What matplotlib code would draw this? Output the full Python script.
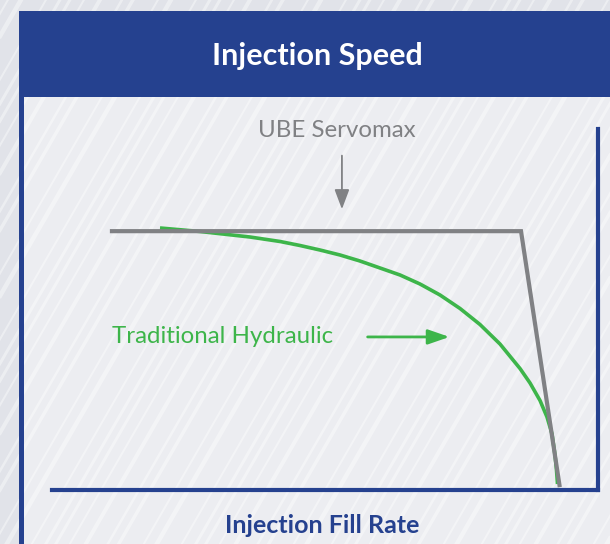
import numpy as np
import matplotlib
matplotlib.use("Agg")
import matplotlib.pyplot as plt
from matplotlib.patches import Rectangle

# ---- data (x: fill rate, y: injection speed; arbitrary 0-100 units) ----
servo_x = [10.6, 85.9, 93.0]
servo_y = [71.7, 71.7, 0.8]

hyd_x = [19.78, 27.11, 36.26, 41.76, 45.42, 49.08, 52.75, 56.41, 60.07, 63.74, 67.40, 71.06,
         74.73, 78.39, 82.05, 85.71, 87.55, 89.38, 90.66, 91.58, 92.12, 92.40, 92.58]
hyd_y = [72.58, 71.61, 70.08, 68.84, 67.73, 66.48, 65.10, 63.43, 61.50, 59.56, 57.06, 54.02,
         50.28, 45.84, 40.44, 33.66, 29.64, 24.79, 20.22, 15.51, 9.70, 5.54, 1.66]

title = "Injection Speed"
xlabel = "Injection Fill Rate"
servo_label = "UBE Servomax"
hyd_label = "Traditional Hydraulic"

BLUE = "#25418f"
GRAY = "#808184"
GREEN = "#3db54a"
FONT = "Lato"

W, H = 610, 544
fig = plt.figure(figsize=(W / 100, H / 100), dpi=100)
fig.patch.set_facecolor("#e1e3e9")

bg = fig.add_axes([0, 0, 1, 1])
bg.set_xlim(0, W)
bg.set_ylim(H, 0)
bg.axis("off")

# card body
bg.add_patch(Rectangle((19, 11), W, H, facecolor="#ecedf1", edgecolor="none", zorder=1))
# stripes (decoration)
pattern = [(0, 3.0), (14, 2.0), (30, 4.0), (52, 2.5), (63, 3.5), (88, 2.0), (101, 4.5), (126, 2.0), (140, 3.0)]
period = 150
t60 = np.tan(np.radians(60))
for base in range(-400, W + 50, period):
    for off, w in pattern:
        x0 = base + off
        bg.plot([x0, x0 + (H + 20) / t60], [H + 10, -10], color="white", alpha=0.4,
                lw=w * 0.72, solid_capstyle="butt", zorder=2)
# left blue border of card
bg.add_patch(Rectangle((19, 97), 5, H, facecolor=BLUE, edgecolor="none", zorder=3))
# header
bg.add_patch(Rectangle((19, 11), W, 86, facecolor=BLUE, edgecolor="none", zorder=4))
bg.text(317, 65, title, color="white", fontsize=22, fontweight="bold", family=FONT,
        ha="center", va="baseline", zorder=5)
bg.text(322, 533, xlabel, color=BLUE, fontsize=18, fontweight="bold", family=FONT,
        ha="center", va="baseline", zorder=5)

# ---- plot area ----
ax = fig.add_axes([52 / W, (H - 490) / H, 546 / W, 361 / H])
ax.set_xlim(0, 100)
ax.set_ylim(0, 100)
ax.patch.set_alpha(0)
for s in ["top", "left"]:
    ax.spines[s].set_visible(False)
for s in ["bottom", "right"]:
    ax.spines[s].set_color(BLUE)
    ax.spines[s].set_linewidth(3)
ax.set_xticks([])
ax.set_yticks([])

ax.plot(hyd_x, hyd_y, color=GREEN, lw=2.6, solid_capstyle="butt", solid_joinstyle="round", zorder=3)
ax.plot(servo_x, servo_y, color=GRAY, lw=3, solid_joinstyle="miter", solid_capstyle="butt", zorder=4)

ax.annotate("", xy=(53.1, 77.0), xytext=(53.1, 93.4),
            arrowprops=dict(arrowstyle="-|>,head_length=1.2,head_width=0.45", color=GRAY, lw=1.3))
ax.text(52.2, 97.8, servo_label, color=GRAY, fontsize=17.3, family=FONT, ha="center", va="baseline")

ax.annotate("", xy=(73.3, 42.4), xytext=(57.3, 42.4),
            arrowprops=dict(arrowstyle="-|>,head_length=1.3,head_width=0.45", color=GREEN, lw=2))
ax.text(11.0, 40.7, hyd_label, color=GREEN, fontsize=17.3, family=FONT, ha="left", va="baseline")

fig.savefig("out.png", dpi=100, facecolor=fig.get_facecolor())
